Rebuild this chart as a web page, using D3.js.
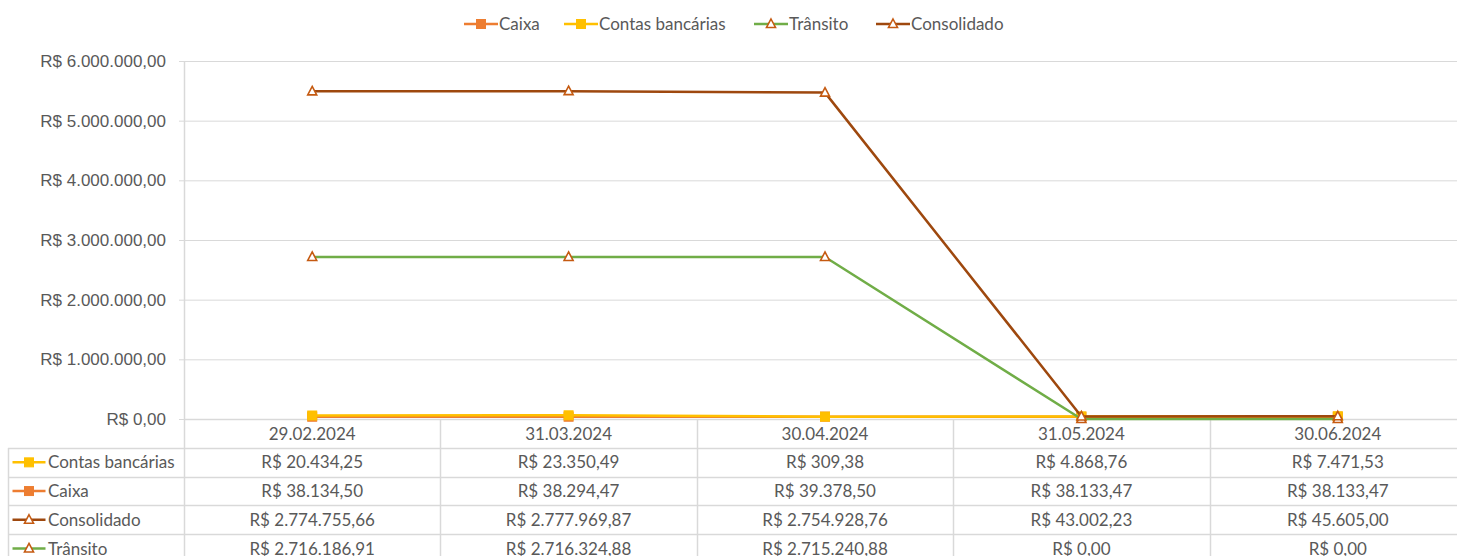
<!DOCTYPE html>
<html>
<head>
<meta charset="utf-8">
<script src="https://cdn.jsdelivr.net/npm/d3@7"></script>
<style>
  body { margin: 0; background: #fff; }
  svg { display: block; font-family: Lato, "Open Sans", sans-serif; }
</style>
</head>
<body>
<div id="chart"></div>
<script>
var dates = ["29.02.2024", "31.03.2024", "30.04.2024", "31.05.2024", "30.06.2024"];
var caixa = [38134.50, 38294.47, 39378.50, 38133.47, 38133.47];
var contas = [20434.25, 23350.49, 309.38, 4868.76, 7471.53];
var consolidado = [2774755.66, 2777969.87, 2754928.76, 43002.23, 45605.00];
var transito = [2716186.91, 2716324.88, 2715240.88, 0, 0];
var yTicks = [0, 1000000, 2000000, 3000000, 4000000, 5000000, 6000000];

var width = 1457, height = 556;
var plotLeft = 184, plotRight = 1466, plotTop = 61, zeroY = 419;
var rowH = 28.7, headH = 29, tableLeft = 8;
var grid = "#d9d9d9", textCol = "#595959";
var triStroke = "#c55a11";
var fontSize = "17px";

var br = d3.formatLocale({decimal: ",", thousands: ".", grouping: [3], currency: ["R$ ", ""]});
var money = br.format("$,.2f");

// stacked line groups (caixa + contas, transito + consolidado), as excel draws them
var series = [
  {name: "Caixa", color: "#ed7d31", marker: "square", vals: caixa,
   plot: caixa.slice()},
  {name: "Contas bancárias", color: "#ffc000", marker: "square", vals: contas,
   plot: contas.map(function(v, i) { return v + caixa[i]; })},
  {name: "Trânsito", color: "#70ad47", marker: "tri", vals: transito,
   plot: transito.slice()},
  {name: "Consolidado", color: "#9e480e", marker: "tri", vals: consolidado,
   plot: consolidado.map(function(v, i) { return v + transito[i]; })}
];
var tableOrder = ["Contas bancárias", "Caixa", "Consolidado", "Trânsito"];

var x = d3.scaleBand().domain(dates).range([plotLeft, plotRight]);
var y = d3.scaleLinear().domain([0, 6000000]).range([zeroY, plotTop]);

var svg = d3.select("#chart").append("svg")
    .attr("width", width).attr("height", height);

// gridlines + y axis
var yAxis = svg.append("g")
    .attr("transform", "translate(" + plotLeft + ",0)")
    .call(d3.axisLeft(y).tickValues(yTicks).tickSize(5).tickPadding(13)
      .tickFormat(money));
yAxis.select(".domain").remove();
yAxis.selectAll(".tick line").attr("stroke", grid);
yAxis.selectAll(".tick text").attr("fill", textCol).style("font-size", fontSize);

svg.append("g").selectAll("line").data(yTicks.slice(1)).enter().append("line")
    .attr("x1", plotLeft).attr("x2", plotRight)
    .attr("y1", function(d) { return y(d) + 0.5; })
    .attr("y2", function(d) { return y(d) + 0.5; })
    .attr("stroke", grid);

// data table
var rowsY = [zeroY, zeroY + headH];
for (var r = 1; r <= tableOrder.length; r++) rowsY.push(zeroY + headH + r * rowH);
var tbl = svg.append("g");
tbl.selectAll(".hl").data(rowsY).enter().append("line")
    .attr("x1", function(d, i) { return i == 0 ? plotLeft : tableLeft; })
    .attr("x2", plotRight)
    .attr("y1", function(d) { return Math.round(d) + 0.5; })
    .attr("y2", function(d) { return Math.round(d) + 0.5; })
    .attr("stroke", grid).attr("stroke-width", 1.5);
var colEdges = dates.map(function(d) { return x(d); }).concat([plotRight]);
tbl.selectAll(".vl").data(colEdges).enter().append("line")
    .attr("x1", function(d) { return Math.round(d) + 0.5; })
    .attr("x2", function(d) { return Math.round(d) + 0.5; })
    .attr("y1", function(d, i) { return i == 0 ? plotTop : zeroY; })
    .attr("y2", height)
    .attr("stroke", grid).attr("stroke-width", 1.5);
tbl.append("line")
    .attr("x1", tableLeft + 0.5).attr("x2", tableLeft + 0.5)
    .attr("y1", zeroY + headH).attr("y2", height)
    .attr("stroke", grid).attr("stroke-width", 1.5);

tbl.selectAll(".hd").data(dates).enter().append("text")
    .attr("x", function(d) { return x(d) + x.bandwidth() / 2; })
    .attr("y", zeroY + headH / 2)
    .attr("dy", "0.36em")
    .attr("text-anchor", "middle")
    .attr("fill", textCol).style("font-size", fontSize)
    .text(function(d) { return d; });

function drawKey(g, s, cx, cy, w) {
  g.append("line").attr("x1", cx - w / 2).attr("x2", cx + w / 2)
    .attr("y1", cy).attr("y2", cy)
    .attr("stroke", s.color).attr("stroke-width", 2.5);
  drawMarker(g, s, cx, cy);
}
function drawMarker(g, s, cx, cy) {
  if (s.marker == "square") {
    g.append("rect").attr("x", cx - 4.5).attr("y", cy - 4.5)
      .attr("width", 9).attr("height", 9)
      .attr("fill", s.color).attr("stroke", s.color).attr("stroke-width", 1);
  } else {
    g.append("path")
      .attr("d", "M" + cx + "," + (cy - 5) + "L" + (cx + 4.5) + "," + (cy + 3.5) +
        "L" + (cx - 4.5) + "," + (cy + 3.5) + "Z")
      .attr("fill", "#fff").attr("stroke", triStroke).attr("stroke-width", 1.6);
  }
}

tableOrder.forEach(function(name, r) {
  var s = series.find(function(d) { return d.name == name; });
  var cy = zeroY + headH + r * rowH + rowH / 2;
  var g = tbl.append("g");
  drawKey(g, s, 29, cy, 33);
  g.append("text").attr("x", 48).attr("y", cy).attr("dy", "0.36em")
    .attr("fill", textCol).style("font-size", fontSize).text(name);
  g.selectAll(".v").data(s.vals).enter().append("text")
    .attr("x", function(d, i) { return x(dates[i]) + x.bandwidth() / 2; })
    .attr("y", cy).attr("dy", "0.36em")
    .attr("text-anchor", "middle")
    .attr("fill", textCol).style("font-size", fontSize)
    .text(function(d) { return money(d); });
});

// lines
var line = d3.line()
    .x(function(d, i) { return x(dates[i]) + x.bandwidth() / 2; })
    .y(function(d) { return y(d); });
series.forEach(function(s) {
  var g = svg.append("g");
  g.append("path").datum(s.plot)
    .attr("d", line).attr("fill", "none")
    .attr("stroke", s.color).attr("stroke-width", 2.5)
    .attr("stroke-linejoin", "round");
  s.plot.forEach(function(v, i) {
    drawMarker(g, s, x(dates[i]) + x.bandwidth() / 2, y(v));
  });
});

// legend
var legendX = [481, 581, 771, 893];
var leg = svg.append("g");
series.forEach(function(s, i) {
  var g = leg.append("g");
  drawKey(g, s, legendX[i], 24, 34);
  g.append("text").attr("x", legendX[i] + 18).attr("y", 24).attr("dy", "0.36em")
    .attr("fill", textCol).style("font-size", fontSize).text(s.name);
});
</script>
</body>
</html>
